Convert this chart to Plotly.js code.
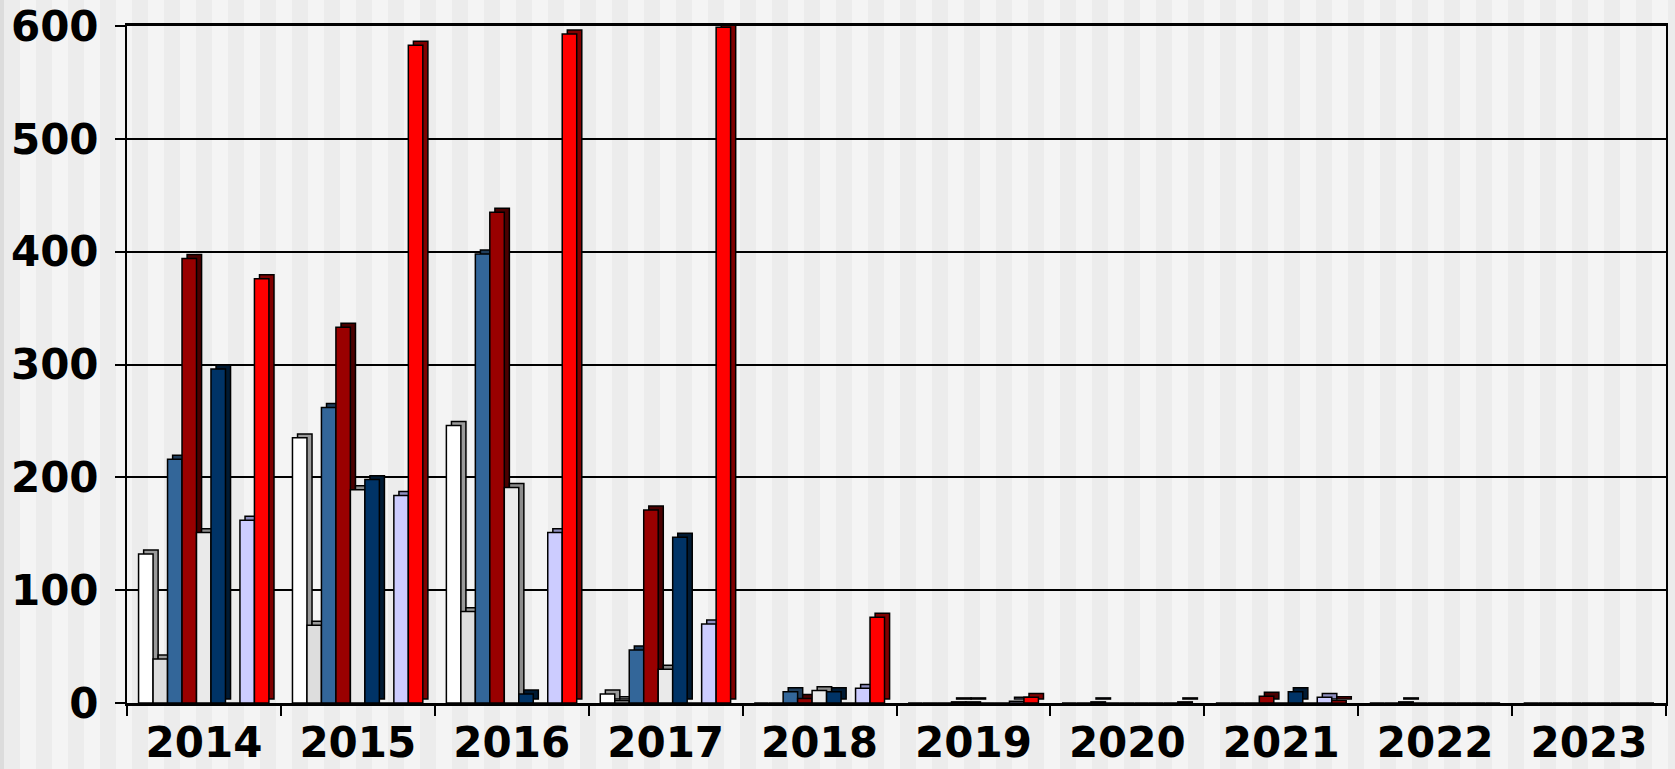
<!DOCTYPE html>
<html>
<head>
<meta charset="utf-8">
<script src="https://cdn.plot.ly/plotly-3.0.1.min.js"></script>
<style>
  html, body { margin: 0; padding: 0; width: 1675px; height: 769px; overflow: hidden; }
  body {
    background:
      linear-gradient(90deg, #dcdcdc 0 4px, transparent 4px),
      repeating-linear-gradient(90deg, #f4f4f4 0 4px, #ececec 4px 20px, #f4f4f4 20px 32px);
  }
  #chart { width: 1675px; height: 769px; }
</style>
</head>
<body>
<div id="chart"></div>
<script>
// ---- data ----
const years = ['2014','2015','2016','2017','2018','2019','2020','2021','2022','2023'];
const seriesWhite    = [132, 235, 246,   8,  0, 0,   0, 0, 0, 0];
const seriesLightGray= [ 39,  69,  81,   2,  0, 0,   0, 0, 0, 0];
const seriesSteel    = [216, 262, 398,  47, 10, 0,   1, 0, 1, 0];
const seriesDarkRed  = [394, 333, 435, 171,  4, 1,   0, 6, 0, 0];
const seriesPaleGray = [151, 189, 191,  30, 11, 1,   0, 0, 0, 0];
const seriesNavy     = [296, 198,   8, 147, 10, 0,   0, 10, 0, 0];
const seriesEmpty    = [  0,   0,   0,   0,  0, 0,   0, 0, 0, 0];
const seriesLavender = [162, 184, 151,  70, 13, 1.5, 0, 5, 0, 0];
const seriesRed      = [376, 583, 593, 599, 76, 5,   1, 2, 0, 0];

// ---- styling ----
const series = [
  {y: seriesWhite,     face: '#ffffff', side: '#9a9a9a'},
  {y: seriesLightGray, face: '#dddddd', side: '#9a9a9a'},
  {y: seriesSteel,     face: '#336699', side: '#1f3d5c'},
  {y: seriesDarkRed,   face: '#990000', side: '#4a0000'},
  {y: seriesPaleGray,  face: '#eaeaea', side: '#8c8c8c'},
  {y: seriesNavy,      face: '#003366', side: '#001a33'},
  {y: seriesEmpty,     face: '#c0c0c0', side: '#808080'},
  {y: seriesLavender,  face: '#ccccff', side: '#8f8fc0'},
  {y: seriesRed,       face: '#ff0000', side: '#800000'}
];
const barW = 0.0941;
const start = -0.4248;
const dx = 0.033;   // 3D depth (x, category units)
const dy = 3.5;     // 3D depth (y, value units)

const traces = [];
series.forEach((s, k) => {
  const off = start + k * barW;
  traces.push({
    type: 'bar', x: years, y: s.y.map(v => v > 0 ? v : null), base: dy,
    offset: off + dx, width: barW,
    marker: {color: s.side, line: {color: '#000', width: 1.5}},
    hoverinfo: 'skip', showlegend: false
  });
  traces.push({
    type: 'bar', x: years, y: s.y,
    offset: off, width: barW,
    marker: {color: s.face, line: {color: '#000', width: 1.5}},
    hoverinfo: 'skip', showlegend: false
  });
});

const font = {family: 'DejaVu Sans, Verdana, sans-serif', size: 42, color: '#000', weight: 'bold'};

const layout = {
  width: 1675, height: 769,
  margin: {l: 127, r: 9, t: 26, b: 66, pad: 0},
  paper_bgcolor: 'rgba(0,0,0,0)',
  plot_bgcolor: 'rgba(0,0,0,0)',
  barmode: 'overlay',
  showlegend: false,
  xaxis: {
    type: 'category',
    tickson: 'boundaries',
    ticks: 'outside', ticklen: 10, tickwidth: 2, tickcolor: '#000',
    showline: true, linecolor: '#000', linewidth: 3, mirror: true,
    showgrid: false, zeroline: false,
    tickfont: font,
    ticklabelstandoff: 1,
    fixedrange: true
  },
  yaxis: {
    range: [0, 600],
    tickvals: [0, 100, 200, 300, 400, 500, 600],
    ticks: 'outside', ticklen: 10, tickwidth: 2, tickcolor: '#000',
    showline: true, linecolor: '#000', linewidth: 2, mirror: true,
    showgrid: true, gridcolor: '#000', gridwidth: 2,
    zeroline: false,
    tickfont: font,
    ticklabelstandoff: 8,
    fixedrange: true
  }
};

Plotly.newPlot('chart', traces, layout, {staticPlot: true, displayModeBar: false});
</script>
</body>
</html>
